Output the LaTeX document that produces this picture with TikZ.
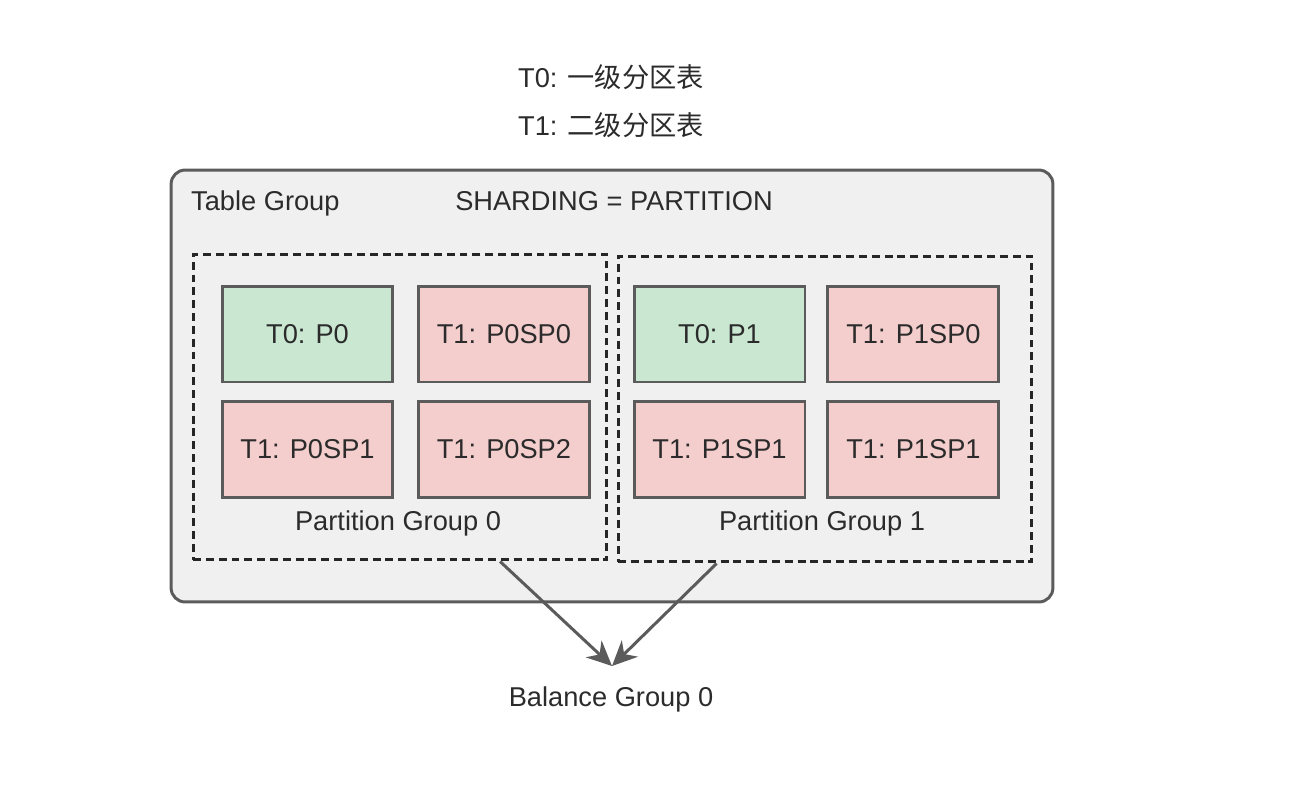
\documentclass[tikz,border=0pt]{standalone}
\usepackage{fontspec}
\setmainfont{Liberation Sans}
\newfontfamily\cjk{Noto Sans CJK SC}
\usetikzlibrary{arrows.meta, positioning, calc}
\definecolor{tgFill}{HTML}{EFF0EF}
\definecolor{tgLine}{HTML}{5B5B5B}
\definecolor{pgLine}{HTML}{262626}
\definecolor{partGreen}{HTML}{C9E7D1}
\definecolor{partRed}{HTML}{F4CDCD}
\definecolor{textDark}{HTML}{2B2B2B}
\tikzset{
  arrowG/.style={-{Stealth[length=5mm, width=4.6mm, inset=1.6mm]}, tgLine, line width=1.7pt},
  tgBox/.style={rectangle, rounded corners=8pt, draw=tgLine, fill=tgFill, line width=1.7pt},
  pgBox/.style={rectangle, draw=pgLine, dash pattern=on 4.5pt off 2.8pt, line width=1.7pt,
                minimum width=8.28cm, minimum height=6.12cm},
  partBox/.style={rectangle, draw=tgLine, line width=1.7pt, text=textDark,
                  minimum width=3.42cm, minimum height=1.92cm},
  partT0/.style={partBox, fill=partGreen},
  partT1/.style={partBox, fill=partRed},
  lbl/.style={text=textDark},
}

\begin{document}
\begin{tikzpicture}[x=0.02cm, y=-0.02cm, node distance=0.33cm and 0.45cm,
    font=\fontsize{15.5}{18}\selectfont]
  \useasboundingbox (0,0) rectangle (1314,802);
  \node[lbl] (t0def) at (611,77) {T0: {\cjk 一级分区表}};
  \node[lbl] (t1def) at (611,125) {T1: {\cjk 二级分区表}};
  \node[tgBox, minimum width=17.64cm, minimum height=8.64cm] (tg) at (612,386) {};
  \node[lbl, anchor=west] (tgname) at (185,203) {Table Group};
  \node[lbl] (sharding) at (614,201) {SHARDING = PARTITION};
  \node[pgBox] (pg0) at (400,407) {};
  \node[pgBox] (pg1) at (825,409) {};
  % partition group 0
  \node[partT0] (p0) at (307.5,334) {T0: P0};
  \node[partT1, right=of p0] (p0sp0) {T1: P0SP0};
  \node[partT1, below=of p0] (p0sp1) {T1: P0SP1};
  \node[partT1, right=of p0sp1] (p0sp2) {T1: P0SP2};
  \node[lbl] (pg0name) at (398,523) {Partition Group 0};
  % partition group 1
  \node[partT0] (p1) at (719.5,334) {T0: P1};
  \node[partT1, right=0.4cm of p1] (p1sp0) {T1: P1SP0};
  \node[partT1, below=of p1] (p1sp1) {T1: P1SP1};
  \node[partT1, right=0.4cm of p1sp1] (p1sp2) {T1: P1SP1};
  \node[lbl] (pg1name) at (822,523) {Partition Group 1};
  \node[lbl] (bg) at (611,699) {Balance Group 0};
  \coordinate (merge) at (612,666);
  \draw[arrowG] ($(pg0.south west)!0.74!(pg0.south east)$) -- (merge);
  \draw[arrowG] ($(pg1.south west)!0.24!(pg1.south east)$) -- (merge);
\end{tikzpicture}
\end{document}
